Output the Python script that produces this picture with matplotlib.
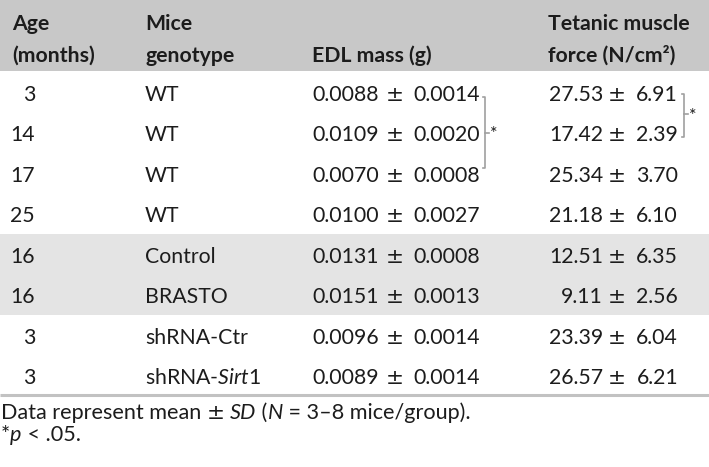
import matplotlib
matplotlib.use("Agg")
import matplotlib.pyplot as plt

plt.rcParams['font.family'] = ['Lato', 'DejaVu Sans']
plt.rcParams['mathtext.fontset'] = 'custom'
plt.rcParams['mathtext.rm'] = 'Lato'
plt.rcParams['mathtext.it'] = 'Lato:italic'
plt.rcParams['mathtext.bf'] = 'Lato:bold'

# ---- data ----
headers_line1 = ["Age", "Mice", "", "Tetanic muscle"]
headers_line2 = ["(months)", "genotype", "EDL mass (g)", "force (N/cm²)"]
ages = [3, 14, 17, 25, 16, 16, 3, 3]
genotypes = ["WT", "WT", "WT", "WT", "Control", "BRASTO", "shRNA-Ctr", r"shRNA-$\mathit{Sirt1}$"]
edl_mean = [0.0088, 0.0109, 0.0070, 0.0100, 0.0131, 0.0151, 0.0096, 0.0089]
edl_sd = [0.0014, 0.0020, 0.0008, 0.0027, 0.0008, 0.0013, 0.0014, 0.0014]
force_mean = [27.53, 17.42, 25.34, 21.18, 12.51, 9.11, 23.39, 26.57]
force_sd = [6.91, 2.39, 3.70, 6.10, 6.35, 2.56, 6.04, 6.21]
shaded_rows = [4, 5]
footnote1 = ["Data represent mean ", "±", " ", "SD", " (", "N", " = 3–8 mice/group)."]
footnote1_italic = [False, False, False, True, False, True, False]
footnote2 = ["*", "p", " < .05."]
footnote2_italic = [False, True, False]

# ---- layout ----
W, H = 709, 467
fig = plt.figure(figsize=(W / 100, H / 100), dpi=100)
ax = fig.add_axes([0, 0, 1, 1])
ax.set_xlim(0, W)
ax.set_ylim(H, 0)
ax.axis('off')

txt = '#1c1c1c'
fs = 15.3
fs_pm = 15.5
fs_note = 15.6

header_bg = '#c8c8c8'
shade_bg = '#e4e4e4'
row_top0 = 72.5
row_h = 40.5
base0 = 100.8

ax.add_patch(plt.Rectangle((0, 0), W, 70.5, color=header_bg, lw=0))
for r in shaded_rows:
    ax.add_patch(plt.Rectangle((0, row_top0 + r * row_h - 0.5), W, row_h, color=shade_bg, lw=0))

# header
hx = [12, 145, 312, 548]
for x, l1, l2 in zip(hx, headers_line1, headers_line2):
    ax.text(x, 29.5, l1, fontsize=fs, fontweight='bold', color=txt, va='baseline', ha='left')
    ax.text(x, 61.5, l2, fontsize=fs, fontweight='bold', color=txt, va='baseline', ha='left')

# body
for i in range(len(ages)):
    yb = base0 + i * row_h
    ax.text(35, yb, str(ages[i]), fontsize=fs, color=txt, va='baseline', ha='right')
    ax.text(145, yb, genotypes[i], fontsize=fs, color=txt, va='baseline', ha='left')
    # EDL mass
    ax.text(312, yb, f"{edl_mean[i]:.4f}", fontsize=fs, color=txt, va='baseline', ha='left')
    ax.text(395, yb, "±", fontsize=fs_pm, family='DejaVu Sans', color=txt,
            va='baseline', ha='center')
    ax.text(479.5, yb, f"{edl_sd[i]:.4f}", fontsize=fs, color=txt, va='baseline', ha='right')
    # force
    ax.text(603, yb, f"{force_mean[i]:.2f}", fontsize=fs, color=txt, va='baseline', ha='right')
    ax.text(616.5, yb, "±", fontsize=fs_pm, family='DejaVu Sans', color=txt,
            va='baseline', ha='center')
    ax.text(678, yb, f"{force_sd[i]:.2f}", fontsize=fs, color=txt, va='baseline', ha='right')

# bottom rule
ax.plot([0, W], [395, 395], color='#c2c2c2', lw=2.2, solid_capstyle='butt')

# significance brackets
bc = '#a0a0a0'
bx = 485
ax.plot([bx - 2.5, bx, bx, bx - 2.5], [97, 97, 168, 168], color=bc, lw=1.2)
ax.plot([bx, bx + 3.5], [133, 133], color=bc, lw=1.2)
ax.text(490, 139, "*", fontsize=13, color=txt, va='baseline', ha='left')
bx2 = 684
ax.plot([bx2 - 2.5, bx2, bx2, bx2 - 2.5], [94, 94, 137, 137], color=bc, lw=1.2)
ax.plot([bx2, bx2 + 3.5], [114, 114], color=bc, lw=1.2)
ax.text(689, 121, "*", fontsize=13, color=txt, va='baseline', ha='left')

# footnotes (pieces laid out left to right using rendered widths)
renderer = fig.canvas.get_renderer()


def draw_pieces(pieces, italics, x0, yb, size):
    x = x0
    for s, it in zip(pieces, italics):
        if s == "±":
            t = ax.text(x, yb, s, fontsize=size, family='DejaVu Sans', color=txt,
                        va='baseline', ha='left')
        else:
            t = ax.text(x, yb, s, fontsize=size, style='italic' if it else 'normal',
                        color=txt, va='baseline', ha='left')
        bb = t.get_window_extent(renderer=renderer)
        x += bb.width * (W / fig.bbox.width)


draw_pieces(footnote1, footnote1_italic, 1, 419, fs_note)
draw_pieces(footnote2, footnote2_italic, 1, 441, fs_note)

fig.savefig("out.png", dpi=100)
